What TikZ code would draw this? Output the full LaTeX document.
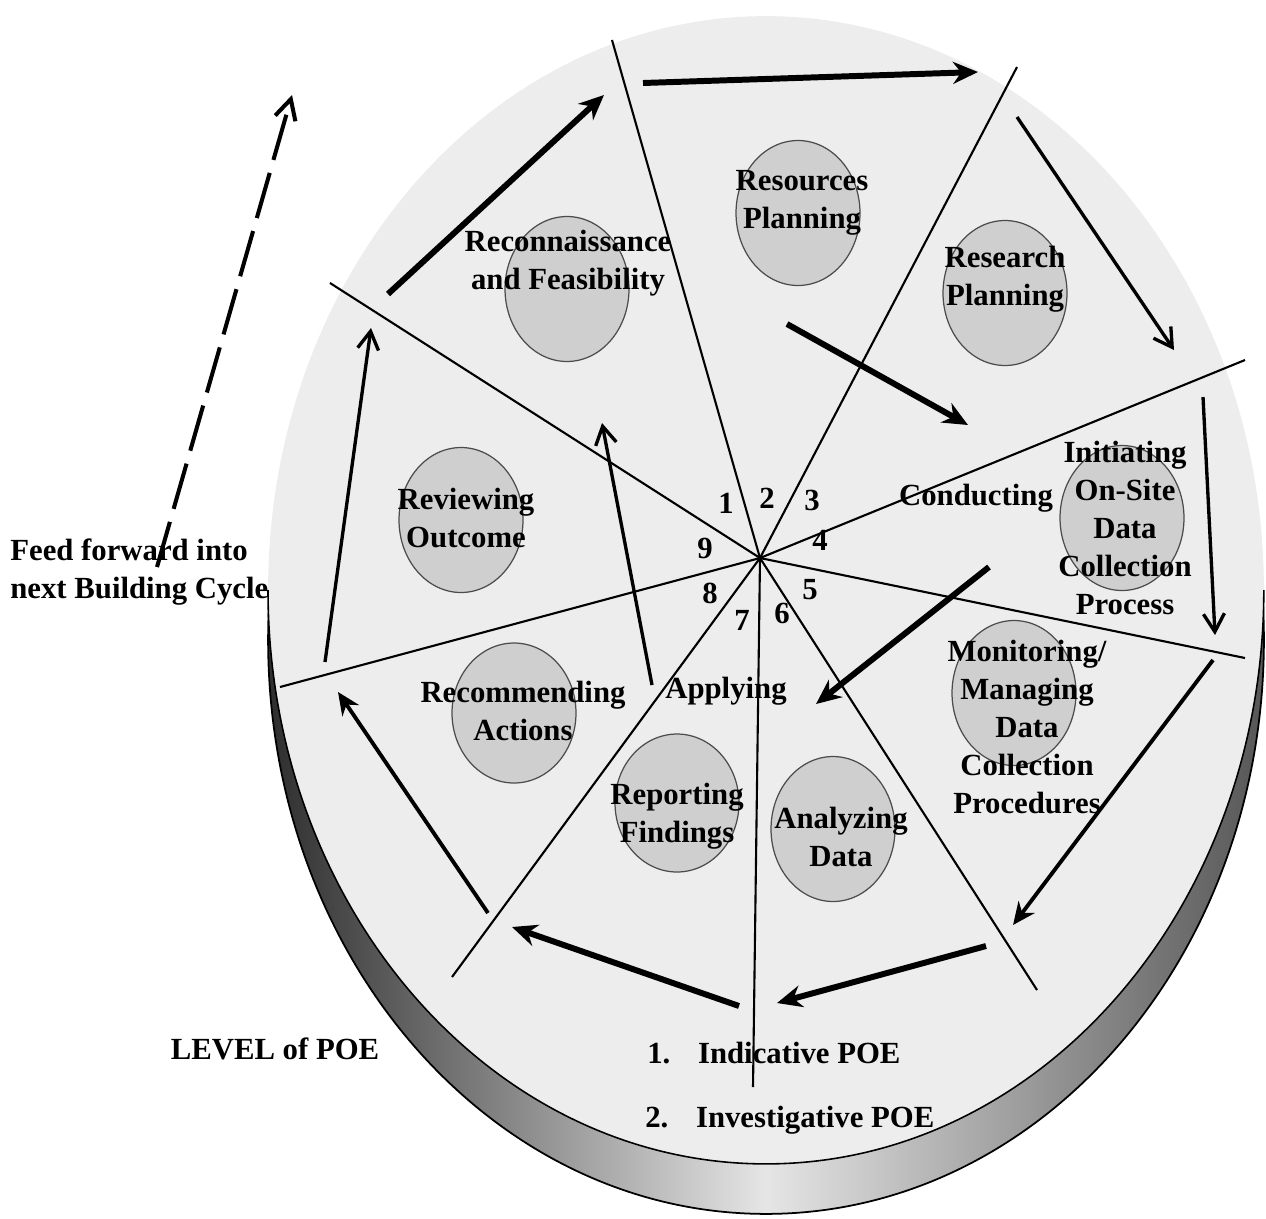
\documentclass[tikz,border=0pt]{standalone}
\usepackage{fontspec}
\setmainfont{Liberation Serif}
\usetikzlibrary{arrows.meta, shapes.geometric}
\newcommand{\poefont}{\fontsize{17.5}{21.6}\selectfont\bfseries}

\begin{document}
\begin{tikzpicture}[
  x=0.02cm, y=-0.02cm,
  lbl/.style={font=\poefont, align=center, inner sep=0pt},
  blob/.style={ellipse, fill=black!19, draw=black!70, line width=0.7pt,
    minimum width=2.48cm, minimum height=2.9cm, inner sep=0pt},
  spoke/.style={line width=1.2pt},
  bigarrow/.style={line width=3.4pt, -{Stealth[length=0.5cm, width=0.44cm]}},
  midarrow/.style={line width=2.2pt, -{Stealth[length=0.45cm, width=0.4cm]}},
  barbarrow/.style={line width=1.9pt, -{Straight Barb[length=0.36cm, width=0.42cm]}},
  feedarrow/.style={line width=2.3pt, dash pattern=on 0.94cm off 0.27cm,
    -{Straight Barb[length=0.4cm, width=0.42cm]}},
]
  \useasboundingbox (0,0) rectangle (1266,1218);

  % disc: side, then top face
  \shadedraw[left color=black!82, right color=black!66, middle color=black!10,
    draw=black, line width=1pt]
    (766,640) ellipse [x radius=9.96cm, y radius=11.48cm];
  \fill[black!7] (766,590) ellipse [x radius=9.96cm, y radius=11.48cm];
  \draw[line width=0.9pt] (268,590) arc [start angle=180, end angle=360,
    x radius=9.96cm, y radius=11.48cm];

  % shaded circles
  \node[blob] (recBlob)  at (567,289)  {};
  \node[blob] (resBlob)  at (798,213)  {};
  \node[blob] (rschBlob) at (1005,293) {};
  \node[blob] (initBlob) at (1122,518) {};
  \node[blob] (monBlob)  at (1014,693) {};
  \node[blob] (anaBlob)  at (833,829)  {};
  \node[blob, minimum height=2.76cm] (repBlob) at (677,803) {};
  \node[blob, minimum height=2.8cm] (recmBlob) at (514,713) {};
  \node[blob] (revBlob)  at (461,520)  {};

  % spokes
  \coordinate (ctr) at (760,558);
  \coordinate (s12) at (612,40);
  \coordinate (s23) at (1017,67);
  \coordinate (s34) at (1245,360);
  \coordinate (s45) at (1245,658);
  \coordinate (s56) at (1037,990);
  \coordinate (s67) at (753,1087);
  \coordinate (s78) at (452,977);
  \coordinate (s89) at (280,687);
  \coordinate (s91) at (330,283);
  \draw[spoke] (ctr) -- (s12);
  \draw[spoke] (ctr) -- (s23);
  \draw[spoke] (ctr) -- (s34);
  \draw[spoke] (ctr) -- (s45);
  \draw[spoke] (ctr) -- (s56);
  \draw[spoke] (ctr) -- (s67);
  \draw[spoke] (ctr) -- (s78);
  \draw[spoke] (ctr) -- (s89);
  \draw[spoke] (ctr) -- (s91);

  % sector numbers
  \node[lbl] (n1) at (726,503) {1};
  \node[lbl] (n2) at (767,498) {2};
  \node[lbl] (n3) at (812,500) {3};
  \node[lbl] (n4) at (820,540) {4};
  \node[lbl] (n5) at (810,590) {5};
  \node[lbl] (n6) at (782,613) {6};
  \node[lbl] (n7) at (742,620) {7};
  \node[lbl] (n8) at (710,593) {8};
  \node[lbl] (n9) at (705,548) {9};

  % arrows round the cycle
  \coordinate (a1s) at (388,294);   \coordinate (a1e) at (604,95);
  \coordinate (a2s) at (643,83);    \coordinate (a2e) at (978,72);
  \coordinate (a3s) at (1017,117);  \coordinate (a3e) at (1174,350);
  \coordinate (a4s) at (787,324);   \coordinate (a4e) at (968,425);
  \coordinate (a5s) at (1203,397);  \coordinate (a5e) at (1215,635);
  \coordinate (a6s) at (989,567);   \coordinate (a6e) at (816,704);
  \coordinate (a7s) at (1213,660);  \coordinate (a7e) at (1013,925);
  \coordinate (a8s) at (986,946);   \coordinate (a8e) at (777,1003);
  \coordinate (a9s) at (739,1006);  \coordinate (a9e) at (512,927);
  \coordinate (a10s) at (488,913);  \coordinate (a10e) at (338,692);
  \coordinate (a11s) at (325,662);  \coordinate (a11e) at (371,328);
  \coordinate (a12s) at (652,685);  \coordinate (a12e) at (602,423);
  \coordinate (fws) at (157,567);   \coordinate (fwe) at (292,95);
  \draw[bigarrow] (a1s) -- (a1e);
  \draw[bigarrow] (a2s) -- (a2e);
  \draw[barbarrow] (a3s) -- (a3e);
  \draw[bigarrow] (a4s) -- (a4e);
  \draw[barbarrow] (a5s) -- (a5e);
  \draw[bigarrow] (a6s) -- (a6e);
  \draw[midarrow] (a7s) -- (a7e);
  \draw[bigarrow] (a8s) -- (a8e);
  \draw[bigarrow] (a9s) -- (a9e);
  \draw[midarrow] (a10s) -- (a10e);
  \draw[barbarrow] (a11s) -- (a11e);
  \draw[barbarrow] (a12s) -- (a12e);
  \draw[feedarrow] (fws) -- (fwe);

  % labels
  \node[lbl] (recTxt)  at (568,263)  {Reconnaissance\\and Feasibility};
  \node[lbl] (resTxt)  at (802,203)  {Resources\\Planning};
  \node[lbl] (rschTxt) at (1005,279) {Research\\Planning};
  \node[lbl] (condTxt) at (976,498)  {Conducting};
  \node[lbl] (initTxt) at (1125,528) {Initiating\\On-Site\\Data\\Collection\\Process};
  \node[lbl] (monTxt)  at (1027,727) {Monitoring/\\Managing\\Data\\Collection\\Procedures};
  \node[lbl] (anaTxt)  at (841,837)  {Analyzing\\Data};
  \node[lbl] (repTxt)  at (677,816)  {Reporting\\Findings};
  \node[lbl] (applTxt) at (726,691)  {Applying};
  \node[lbl] (recmTxt) at (523,711)  {Recommending\\Actions};
  \node[lbl] (revTxt)  at (466,518)  {Reviewing\\Outcome};
  \node[lbl, align=left, anchor=west] (feedTxt) at (10,572)
    {Feed forward into\\next Building Cycle};
  \node[lbl] (levelTxt) at (275,1049) {LEVEL of POE};
  \node[lbl, anchor=west] (poe1) at (647,1053) {1.\hspace{0.9em}Indicative POE};
  \node[lbl, anchor=west] (poe2) at (645,1120) {2.\hspace{0.9em}Investigative POE};
\end{tikzpicture}
\end{document}
